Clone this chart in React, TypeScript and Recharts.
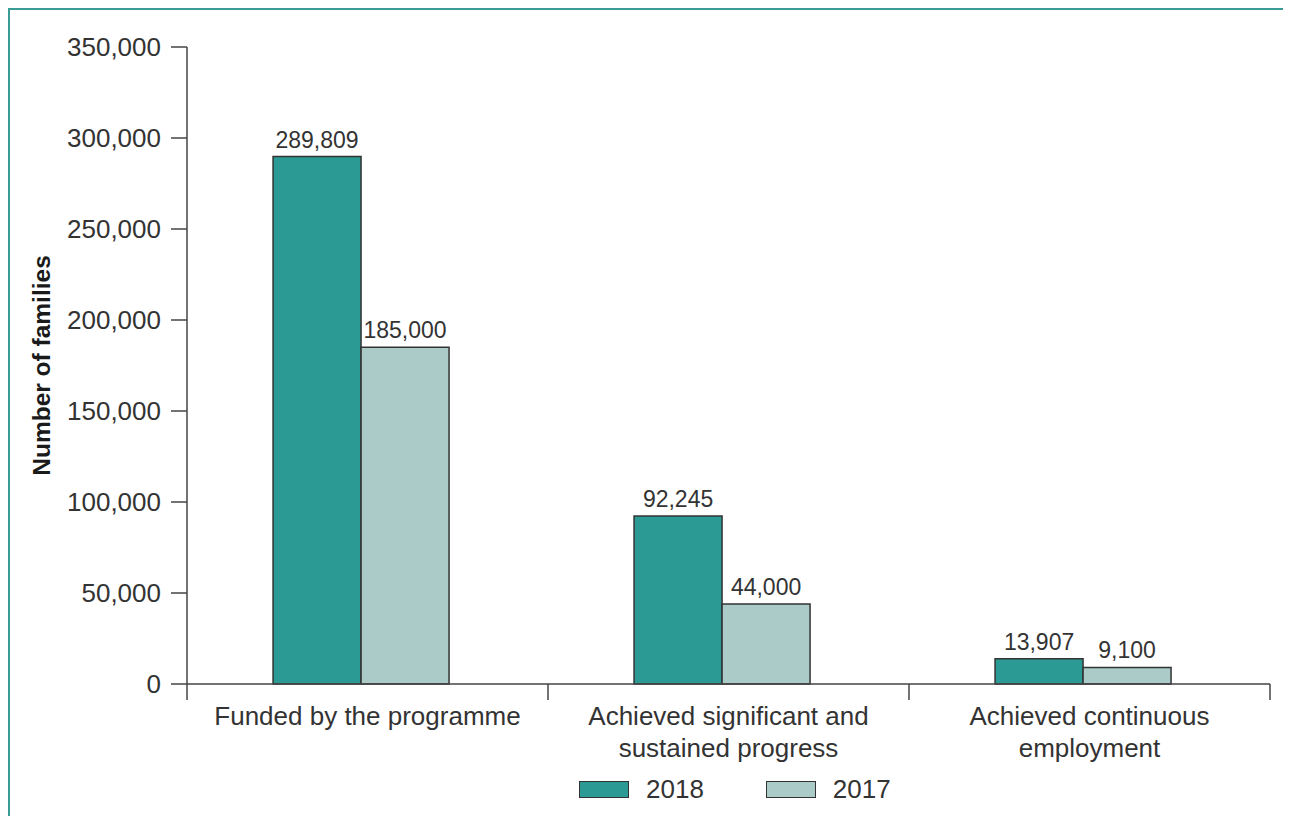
import React from 'react';
import { BarChart, Bar, XAxis, YAxis, Legend, LabelList } from 'recharts';

const categories = [
  'Funded by the programme',
  'Achieved significant and\nsustained progress',
  'Achieved continuous\nemployment',
];
const values2018 = [289809, 92245, 13907];
const values2017 = [185000, 44000, 9100];
const yTicks = [0, 50000, 100000, 150000, 200000, 250000, 300000, 350000];

const data = categories.map((name, i) => ({
  name,
  y2018: values2018[i],
  y2017: values2017[i],
}));

const WIDTH = 1281;
const HEIGHT = 806;
const MARGIN = { top: 37, right: 21, left: 0, bottom: 0 };
const Y_AXIS_W = 177;
const PLOT_W = WIDTH - MARGIN.left - MARGIN.right - Y_AXIS_W;
// bars sit slightly left of their category centre in the original
const SHIFT = 6;

const TEXT = '#333333';
const AXIS = '#444444';
const TEAL = '#2b9a94';
const PALE = '#abcbc9';

const series = [
  { key: 'y2018', name: '2018', color: TEAL },
  { key: 'y2017', name: '2017', color: PALE },
];

const fmt = (v: number) => v.toLocaleString('en-US');

function CategoryTick(props: any) {
  const { x, y, payload, index } = props;
  const band = PLOT_W / categories.length;
  const cx = x + SHIFT;
  const left = cx - band / 2;
  const lines = String(payload.value).split('\n');
  return (
    <g>
      <line x1={left} y1={y} x2={left} y2={y + 16} stroke={AXIS} strokeWidth={1.5} />
      {index === categories.length - 1 && (
        <line x1={left + band} y1={y} x2={left + band} y2={y + 16} stroke={AXIS} strokeWidth={1.5} />
      )}
      <text x={cx} y={y + 41} textAnchor="middle" fill={TEXT} fontSize={26}>
        {lines.map((l, i) => (
          <tspan key={i} x={cx} dy={i === 0 ? 0 : 32}>
            {l}
          </tspan>
        ))}
      </text>
    </g>
  );
}

function LegendContent() {
  return (
    <div style={{ display: 'flex', alignItems: 'center', gap: 62 }}>
      {series.map((s) => (
        <div key={s.key} style={{ display: 'flex', alignItems: 'center', gap: 17 }}>
          <span
            style={{
              display: 'inline-block',
              width: 48,
              height: 15,
              background: s.color,
              border: `1.5px solid ${TEXT}`,
            }}
          />
          <span style={{ fontSize: 26, color: TEXT, lineHeight: '30px' }}>{s.name}</span>
        </div>
      ))}
    </div>
  );
}

export default function App() {
  return (
    <div
      style={{
        width: WIDTH,
        height: HEIGHT,
        borderTop: '2px solid #3a9c95',
        borderLeft: '2px solid #3a9c95',
        fontFamily: "'Liberation Sans', Arial, sans-serif",
        background: '#fff',
      }}
    >
      <BarChart
        width={WIDTH}
        height={HEIGHT}
        data={data}
        margin={MARGIN}
        barCategoryGap="25.5%"
        barGap={0}
      >
        <XAxis
          dataKey="name"
          height={HEIGHT - MARGIN.top - 637}
          padding={{ left: -SHIFT, right: SHIFT }}
          axisLine={{ stroke: AXIS, strokeWidth: 1.5 }}
          tickLine={false}
          tickSize={0}
          tickMargin={0}
          interval={0}
          tick={<CategoryTick />}
        />
        <YAxis
          width={Y_AXIS_W}
          domain={[0, 350000]}
          ticks={yTicks}
          interval={0}
          tickFormatter={fmt}
          axisLine={{ stroke: AXIS, strokeWidth: 1.5 }}
          tickLine={{ stroke: AXIS, strokeWidth: 1.5 }}
          tickSize={16}
          tickMargin={10}
          tick={{ fill: TEXT, fontSize: 26 }}
          label={{
            value: 'Number of families',
            angle: -90,
            position: 'insideLeft',
            offset: 31,
            textAnchor: 'middle',
            fill: '#1a1a1a',
            fontSize: 24.5,
            fontWeight: 'bold',
          }}
        />
        <Legend
          verticalAlign="middle"
          align="center"
          layout="horizontal"
          wrapperStyle={{ left: 569, top: 764, width: 340 }}
          content={<LegendContent />}
        />
        {series.map((s) => (
          <Bar
            key={s.key}
            dataKey={s.key}
            name={s.name}
            fill={s.color}
            stroke={TEXT}
            strokeWidth={1.5}
            isAnimationActive={false}
          >
            <LabelList dataKey={s.key} position="top" offset={9} formatter={fmt} fill={TEXT} fontSize={23} />
          </Bar>
        ))}
      </BarChart>
    </div>
  );
}
